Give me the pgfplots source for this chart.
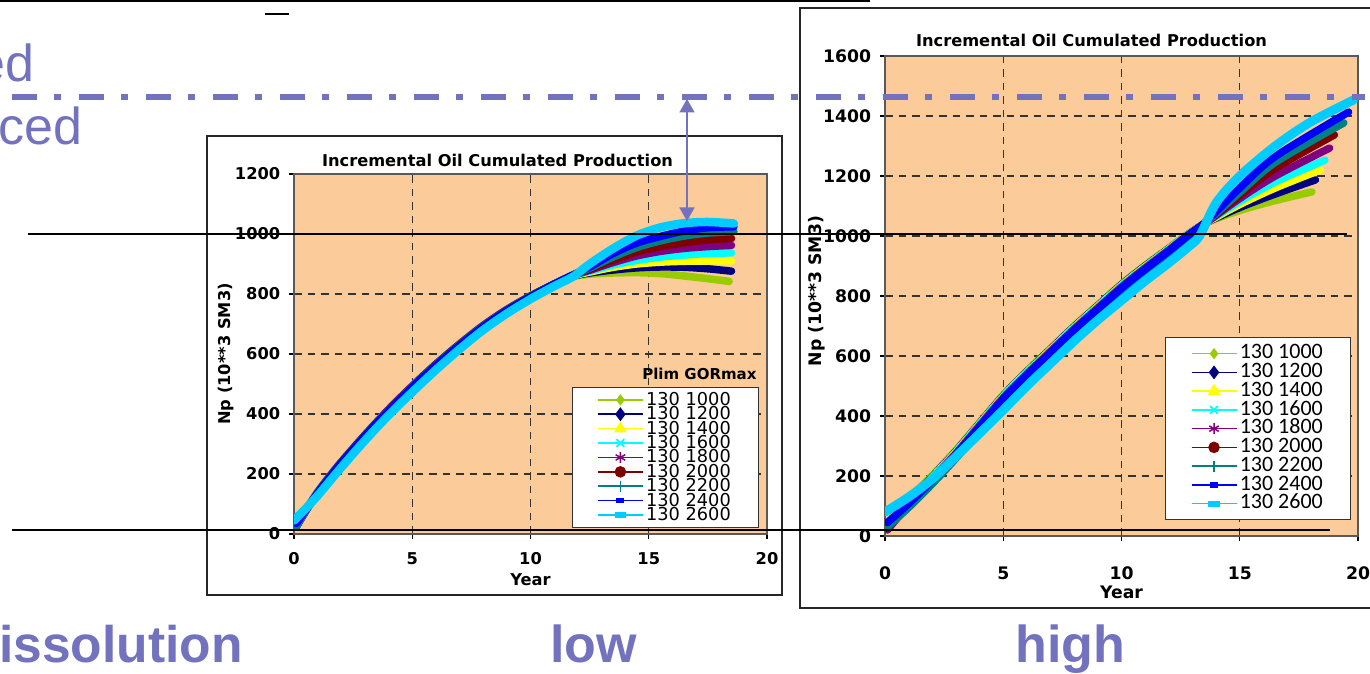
\documentclass[border=0pt]{standalone}
\usepackage{pgfplots}
\pgfplotsset{compat=1.18}
\usepackage{fontspec}
\setmainfont{DejaVu Sans}
\newfontfamily\arialfont{Liberation Sans}
\newfontfamily\carlito{Carlito}
\usetikzlibrary{arrows.meta}
\definecolor{bg}{HTML}{FBCB99}
\definecolor{slide}{HTML}{7272BE}
\definecolor{cA}{HTML}{99CC00}
\definecolor{cB}{HTML}{000080}
\definecolor{cC}{HTML}{FFFF00}
\definecolor{cD}{HTML}{00FFFF}
\definecolor{cE}{HTML}{800080}
\definecolor{cF}{HTML}{800000}
\definecolor{cG}{HTML}{008080}
\definecolor{cH}{HTML}{0000FF}
\definecolor{cI}{HTML}{00CCFF}
\pgfplotsset{
  chart/.style={
    scale only axis, width=189.2pt, xmin=0, xmax=20, ymin=0,
    xtick={0,5,10,15,20},
    axis background/.style={fill=bg},
    grid=major,
    grid style={black!80, dash pattern=on 3pt off 2.4pt, line width=0.45pt},
    axis line style={draw=gray!70!black, line width=0.6pt},
    tick align=outside, tick style={black, line width=0.5pt}, major tick length=2pt,
    xtick pos=left, ytick pos=left,
    /pgf/number format/assume math mode=true,
    /pgf/number format/1000 sep={},
    legend cell align=left,
    legend image code/.code={\draw[mark repeat=2,mark phase=2] plot coordinates {(0pt,0pt)(9pt,0pt)(18pt,0pt)};},
  },
  band/.style={line width=3pt, line cap=round, line join=round, smooth, forget plot},
}
\begin{document}
\begin{tikzpicture}
\useasboundingbox (0,0) rectangle (548pt,269.6pt);
\clip (0,0) rectangle (548pt,269.6pt);
\begin{scope}[x=0.4pt,y=-0.4pt,yshift=269.6pt]
  \draw[black!85, line width=0.5pt, fill=white] (207,136) rectangle (782,595);
  \draw[black!85, line width=0.5pt, fill=white] (800,8) rectangle (1380,608);
\end{scope}

% ---------------- left chart (low) ----------------
\begin{axis}[chart, at={(117.6pt,56pt)}, anchor=south west,
  height=144pt, ymax=1200, ytick={0,200,...,1200},
  tick label style={font=\bfseries\fontsize{6.5}{7}\selectfont},
  xticklabel style={yshift=-2pt},
  title={Incremental Oil Cumulated Production},
  title style={font=\bfseries\fontsize{6.5}{7}\selectfont, at={(0.5,1)}, anchor=center, yshift=-0.6pt, xshift=-13.2pt},
  xlabel={Year}, ylabel={Np (10**3 SM3)},
  label style={font=\bfseries\fontsize{6.5}{7}\selectfont},
  ylabel style={at={(axis description cs:-0.144,0.5)}, anchor=center, rotate=0},
  xlabel style={at={(axis description cs:0.5,-0.128)}, anchor=center},
  legend style={at={(0.983,0.017)}, anchor=south east, draw=black!80, line width=0.5pt,
    fill=white, inner xsep=10pt, inner ysep=2pt,
    font=\fontsize{7.1}{7}\selectfont,
    nodes={inner xsep=1pt, inner ysep=0pt, text height=5.1pt, text depth=0.66pt}},
]
\addlegendimage{cA, line width=0.6pt, mark=diamond*, mark size=1.8pt}
\addlegendentry{130 1000}
\addlegendimage{cB, line width=0.6pt, mark=diamond*, mark size=2.3pt}
\addlegendentry{130 1200}
\addlegendimage{cC, line width=0.6pt, mark=triangle*, mark size=2.4pt}
\addlegendentry{130 1400}
\addlegendimage{cD, line width=0.6pt, mark=x, mark size=2.2pt, mark options={line width=0.7pt}}
\addlegendentry{130 1600}
\addlegendimage{cE, line width=0.6pt, mark=asterisk, mark size=2.2pt, mark options={line width=0.6pt}}
\addlegendentry{130 1800}
\addlegendimage{cF, line width=0.6pt, mark=*, mark size=2pt}
\addlegendentry{130 2000}
\addlegendimage{cG, line width=0.6pt, mark=|, mark size=2.2pt, mark options={line width=0.6pt}}
\addlegendentry{130 2200}
\addlegendimage{cH, line width=0.6pt, mark=square*, mark size=0.8pt, mark options={xscale=1.6}}
\addlegendentry{130 2400}
\addlegendimage{cI, line width=0.6pt, mark=square*, mark size=0.9pt, mark options={xscale=2.2}}
\addlegendentry{130 2600}

\addplot[band, cA] coordinates {(0.1,28)(0.5,80)(1,140)(1.5,192)(2,240)(3,330)(4,415)(5,493)(6,566)(7,633)(8,695)(9,748)(10,793)(11,832)(11.8,858)(12.5,866)(13.5,870)(14.5,871)(15.5,868)(16.5,860)(17.5,851)(18.4,842)};
\addplot[band, cB] coordinates {(0.1,28)(0.5,80)(1,140)(1.5,192)(2,240)(3,330)(4,415)(5,493)(6,566)(7,633)(8,695)(9,748)(10,793)(11,832)(11.8,859)(12.5,870)(13.5,880)(14.5,887)(15.5,890)(16.5,889)(17.5,884)(18.5,876)};
\addplot[band, cC] coordinates {(0.1,28)(0.5,80)(1,140)(1.5,192)(2,240)(3,330)(4,415)(5,493)(6,566)(7,633)(8,695)(9,748)(10,793)(11,832)(11.8,860)(12.5,873)(13.5,889)(14.5,900)(15.5,906)(16.5,909)(17.5,910)(18.5,910)};
\addplot[band, cD] coordinates {(0.1,30)(0.5,82)(1,141)(1.5,192)(2,240)(3,330)(4,415)(5,493)(6,566)(7,633)(8,695)(9,748)(10,793)(11,833)(11.8,861)(12.5,876)(13.5,897)(14.5,912)(15.5,923)(16.5,930)(17.5,935)(18.5,937)};
\addplot[band, cE] coordinates {(0.1,26)(0.5,78)(1,139)(1.5,191)(2,240)(3,330)(4,415)(5,493)(6,566)(7,633)(8,695)(9,748)(10,793)(11,833)(11.8,862)(12.5,879)(13.5,905)(14.5,927)(15.5,942)(16.5,952)(17.5,958)(18.5,962)};
\addplot[band, cF] coordinates {(0.1,24)(0.5,77)(1,138)(1.5,190)(2,239)(3,329)(4,414)(5,492)(6,565)(7,632)(8,694)(9,747)(10,793)(11,833)(11.8,862)(12.5,882)(13.5,913)(14.5,940)(15.5,958)(16.5,970)(17.5,980)(18.5,985)};
\addplot[band, cG] coordinates {(0.1,25)(0.5,77)(1,137)(1.5,189)(2,238)(3,328)(4,413)(5,491)(6,564)(7,631)(8,693)(9,746)(10,792)(11,833)(11.8,863)(12.5,886)(13.5,923)(14.5,955)(15.5,977)(16.5,993)(17.5,1003)(18.6,1008)};
\addplot[band, cH] coordinates {(0.1,35)(0.5,80)(1,136)(1.5,188)(2,237)(3,327)(4,411)(5,489)(6,562)(7,629)(8,691)(9,745)(10,791)(11,833)(11.8,864)(12.5,890)(13.5,935)(14.5,970)(15.5,992)(16.5,1010)(17.5,1021)(18.6,1024)};
\addplot[band, cI, line width=3.4pt] coordinates {(0,45)(0.5,85)(1,128)(1.5,175)(2,222)(3,312)(4,396)(5,473)(6,547)(7,616)(8,680)(9,735)(10,783)(11,826)(11.8,858)(12.5,900)(13.5,952)(14.5,995)(15.5,1022)(16.5,1036)(17.5,1040)(18.6,1035)};
\end{axis}

% ---------------- right chart (high) ----------------
\begin{axis}[chart, at={(354pt,55.2pt)}, anchor=south west,
  height=192pt, ymax=1600, ytick={0,200,...,1600},
  tick label style={font=\bfseries\fontsize{6.9}{7}\selectfont},
  xticklabel style={yshift=-6.8pt},
  title={Incremental Oil Cumulated Production},
  title style={font=\bfseries\fontsize{6.5}{7}\selectfont, at={(0.5,1)}, anchor=center, yshift=0.4pt, xshift=-12pt},
  xlabel={Year}, ylabel={Np (10**3 SM3)},
  label style={font=\bfseries\fontsize{6.9}{7}\selectfont},
  ylabel style={at={(axis description cs:-0.144,0.51)}, anchor=center, rotate=0},
  xlabel style={at={(axis description cs:0.5,-0.117)}, anchor=center},
  legend style={at={(0.985,0.033)}, anchor=south east, draw=black!80, line width=0.5pt,
    fill=white, inner xsep=10pt, inner ysep=2.6pt,
    font=\carlito\fontsize{8.8}{8.8}\selectfont,
    nodes={inner xsep=1pt, inner ysep=0pt, text height=5.8pt, text depth=1.7pt}},
]
\addlegendimage{cA, line width=0.6pt, mark=diamond*, mark size=1.8pt}
\addlegendentry{130 1000}
\addlegendimage{cB, line width=0.6pt, mark=diamond*, mark size=2.3pt}
\addlegendentry{130 1200}
\addlegendimage{cC, line width=0.6pt, mark=triangle*, mark size=2.4pt}
\addlegendentry{130 1400}
\addlegendimage{cD, line width=0.6pt, mark=x, mark size=2.2pt, mark options={line width=0.7pt}}
\addlegendentry{130 1600}
\addlegendimage{cE, line width=0.6pt, mark=asterisk, mark size=2.2pt, mark options={line width=0.6pt}}
\addlegendentry{130 1800}
\addlegendimage{cF, line width=0.6pt, mark=*, mark size=2pt}
\addlegendentry{130 2000}
\addlegendimage{cG, line width=0.6pt, mark=|, mark size=2.2pt, mark options={line width=0.6pt}}
\addlegendentry{130 2200}
\addlegendimage{cH, line width=0.6pt, mark=square*, mark size=0.8pt, mark options={xscale=1.6}}
\addlegendentry{130 2400}
\addlegendimage{cI, line width=0.6pt, mark=square*, mark size=0.9pt, mark options={xscale=2.2}}
\addlegendentry{130 2600}

\addplot[band, cA] coordinates {(0.1,40)(1,122)(2,202)(3,286)(4,378)(5,470)(6,550)(7,625)(8,700)(9,770)(10,840)(11,902)(12,960)(12.8,1006)(13.6,1045)(15,1085)(16.5,1118)(18.05,1147)};
\addplot[band, cB] coordinates {(0.1,35)(1,118)(2,198)(3,283)(4,376)(5,468)(6,548)(7,623)(8,698)(9,768)(10,838)(11,900)(12,958)(12.8,1005)(13.6,1045)(15,1095)(16.5,1140)(18.2,1187)};
\addplot[band, cC] coordinates {(0.1,32)(1,116)(2,196)(3,281)(4,374)(5,466)(6,546)(7,621)(8,696)(9,766)(10,836)(11,898)(12,957)(12.8,1005)(13.6,1045)(15,1105)(16.5,1160)(18.4,1220)};
\addplot[band, cD] coordinates {(0.1,30)(1,114)(2,194)(3,279)(4,372)(5,464)(6,544)(7,619)(8,694)(9,764)(10,834)(11,896)(12,956)(12.8,1004)(13.6,1046)(15,1115)(16.5,1180)(18.6,1253)};
\addplot[band, cE] coordinates {(0.1,20)(1,105)(2,190)(3,275)(4,368)(5,460)(6,540)(7,615)(8,690)(9,760)(10,830)(11,893)(12,953)(12.8,1003)(13.6,1046)(15,1125)(16.5,1200)(18.8,1293)};
\addplot[band, cF] coordinates {(0.1,25)(1,102)(2,182)(3,267)(4,360)(5,452)(6,532)(7,607)(8,682)(9,752)(10,822)(11,886)(12,947)(12.8,999)(13.6,1046)(15,1135)(16.5,1225)(19.0,1337)};
\addplot[band, cG] coordinates {(0.1,30)(1,95)(2,174)(3,259)(4,352)(5,444)(6,524)(7,599)(8,674)(9,744)(10,814)(11,879)(12,941)(12.8,995)(13.6,1047)(15,1145)(16.5,1245)(19.4,1377)};
\addplot[band, cH] coordinates {(0.1,45)(1,108)(2,186)(3,271)(4,364)(5,456)(6,536)(7,611)(8,686)(9,756)(10,826)(11,889)(12,950)(12.8,1001)(13.6,1050)(15,1160)(16.5,1265)(19.6,1413)};
\addplot[band, cI, line width=3.6pt] coordinates {(0,80)(1,130)(2,190)(3,265)(4,342)(5,420)(6,500)(7,575)(8,650)(9,720)(10,785)(11,850)(12,910)(12.8,962)(13.3,1000)(14,1110)(15,1200)(16.5,1300)(18,1380)(19.8,1453)};
\end{axis}

% ---------------- slide decorations ----------------
\begin{scope}[x=0.4pt,y=-0.4pt,yshift=269.6pt]
  \draw[black, line width=1.2pt] (0,1) -- (870,1);
  \draw[black, line width=0.9pt] (265,14) -- (289,14);
  \draw[slide, line width=2.4pt, dash pattern=on 10pt off 6.8pt on 2.8pt off 7.2pt] (12,97) -- (1365,97);
  \draw[slide, line width=0.7pt, {Triangle[width=6pt,length=5.4pt]}-{Triangle[width=6pt,length=5.4pt]}] (687,99) -- (687,221);
  \draw[black, line width=0.8pt] (28,234) -- (1347,234);
  \draw[black, line width=0.8pt] (12,530) -- (1330,530);
  \node[anchor=base east, inner sep=0pt, font=\bfseries\fontsize{6}{7}\selectfont] at (757,380) {Plim GORmax};
  \node[anchor=base east, inner sep=0pt, text=slide, font=\arialfont\fontsize{20.8}{22}\selectfont] at (35,82) {ed};
  \node[anchor=base east, inner sep=0pt, text=slide, font=\arialfont\fontsize{20.8}{22}\selectfont] at (83,145) {ced};
  \node[anchor=base east, inner sep=0pt, text=slide, font=\arialfont\bfseries\fontsize{20.6}{22}\selectfont] at (243,663) {issolution};
  \node[anchor=base west, inner sep=0pt, text=slide, font=\arialfont\bfseries\fontsize{20.8}{22}\selectfont] at (550,663) {low};
  \node[anchor=base west, inner sep=0pt, text=slide, font=\arialfont\bfseries\fontsize{20.8}{22}\selectfont] at (1015,663) {high};
\end{scope}
\end{tikzpicture}
\end{document}
